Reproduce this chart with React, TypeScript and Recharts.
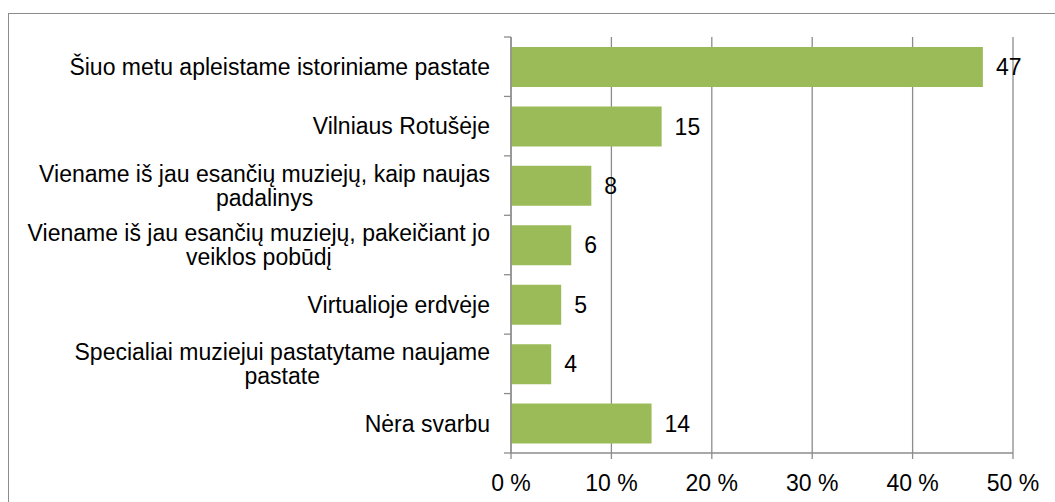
import { Bar, BarChart, CartesianGrid, LabelList, XAxis, YAxis } from 'recharts'

const categories = [
  'Šiuo metu apleistame istoriniame pastate',
  'Vilniaus Rotušėje',
  'Viename iš jau esančių muziejų, kaip naujas padalinys',
  'Viename iš jau esančių muziejų, pakeičiant jo veiklos pobūdį',
  'Virtualioje erdvėje',
  'Specialiai muziejui pastatytame naujame pastate',
  'Nėra svarbu',
]
const values = [47, 15, 8, 6, 5, 4, 14]
const percentTicks = [0, 10, 20, 30, 40, 50]

const data = categories.map((name, i) => ({ name, value: values[i] }))

const FONT = '"Liberation Sans", Arial, sans-serif'
const FONT_SIZE = 23
const GRAY = '#8c8c8c'
const TOP = 37
const BOTTOM_AXIS = 49
const HEIGHT = 502
const BAND = (HEIGHT - TOP - BOTTOM_AXIS) / categories.length

let ctx: CanvasRenderingContext2D | null = null
function measure(s: string) {
  if (!ctx) ctx = document.createElement('canvas').getContext('2d')
  if (!ctx) return s.length * FONT_SIZE * 0.5
  ctx.font = `${FONT_SIZE}px ${FONT}`
  return ctx.measureText(s).width
}

function wrap(label: string, maxWidth: number) {
  const lines: string[] = []
  let cur = ''
  for (const w of label.split(' ')) {
    const next = cur ? `${cur} ${w}` : w
    if (cur && measure(next) > maxWidth) {
      lines.push(cur)
      cur = w
    } else {
      cur = next
    }
  }
  if (cur) lines.push(cur)
  return lines
}

// category labels: block right-aligned to the axis, lines centred within the block
function CategoryTick(props: any) {
  const { x, y, payload, index, visibleTicksCount } = props
  const axisX = x + 21
  const half = BAND / 2
  const lines = wrap(String(payload.value), 478)
  const blockW = Math.max(...lines.map(measure))
  const cx = x - blockW / 2
  const pitch = 24
  const first = y - ((lines.length - 1) / 2) * pitch
  return (
    <g>
      <line x1={axisX - 7} x2={axisX} y1={y - half} y2={y - half} stroke={GRAY} strokeWidth={1.3} />
      {index === visibleTicksCount - 1 && (
        <line x1={axisX - 7} x2={axisX} y1={y + half} y2={y + half} stroke={GRAY} strokeWidth={1.3} />
      )}
      <text textAnchor='middle' fill='#000' fontSize={FONT_SIZE} fontFamily={FONT}>
        {lines.map((l, i) => (
          <tspan key={i} x={cx} y={first + i * pitch} dy='0.36em'>
            {l}
          </tspan>
        ))}
      </text>
    </g>
  )
}

export default function App() {
  return (
    <div style={{ position: 'absolute', left: 0, top: 0, width: 1055, height: HEIGHT, overflow: 'hidden', background: '#fff' }}>
      <div
        style={{
          position: 'absolute',
          left: 8,
          top: 13,
          width: 1100,
          height: 600,
          border: `1.5px solid ${GRAY}`,
        }}
      />
      <div style={{ position: 'absolute', left: 0, top: 0 }}>
        <BarChart
          width={1055}
          height={HEIGHT}
          data={data}
          layout='vertical'
          margin={{ top: TOP, right: 42, bottom: 0, left: 0 }}
          barSize={40}
        >
          <CartesianGrid horizontal={false} stroke={GRAY} strokeWidth={1.3} />
          <XAxis
            type='number'
            domain={[0, 50]}
            ticks={percentTicks}
            tickFormatter={(v) => `${v} %`}
            height={BOTTOM_AXIS}
            tickSize={6}
            tickMargin={16}
            stroke={GRAY}
            strokeWidth={1.3}
            tick={{ fill: '#000', fontSize: FONT_SIZE, fontFamily: FONT }}
            interval={0}
          />
          <YAxis
            type='category'
            dataKey='name'
            width={511}
            tickSize={6}
            tickMargin={15}
            tickLine={false}
            stroke={GRAY}
            strokeWidth={1.3}
            tick={<CategoryTick />}
            interval={0}
          />
          <Bar dataKey='value' fill='#9BBB59' isAnimationActive={false}>
            <LabelList dataKey='value' position='right' offset={13} fill='#000' fontSize={FONT_SIZE} fontFamily={FONT} />
          </Bar>
        </BarChart>
      </div>
    </div>
  )
}
